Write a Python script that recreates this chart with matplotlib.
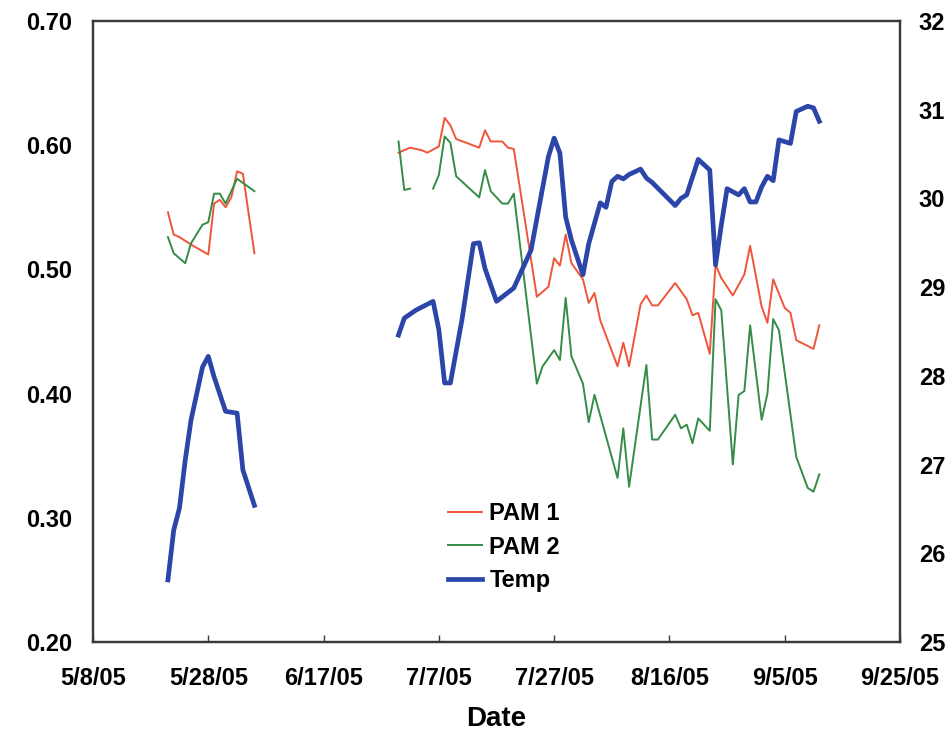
import numpy as np
import pandas as pd
import matplotlib
matplotlib.use("Agg")
import matplotlib.pyplot as plt

plt.rcParams["font.family"] = ["Liberation Sans", "DejaVu Sans"]

# Measurement days are counted from the season start; NaN marks a gap in the record
season_start = "2005-05-08"

pam1_days = [13, 14, 15, 17, 20, 21, 22, 23, 24, 25, 26, 28, 40,
             53, 55, 57, 58, 60, 61, 62, 63,
             67, 68, 69, 71, 72, 73,
             77, 78, 79, 80, 81, 82, 83,
             85, 86, 87, 88,
             91, 92, 93,
             95, 96, 97, 98,
             101, 103, 104, 105,
             107, 108, 109, 111,
             113, 114, 116, 117, 118,
             120, 121, 122, 125, 126]
pam1_vals = [0.546, 0.528, 0.526, 0.520, 0.512, 0.553, 0.556, 0.550, 0.558, 0.579, 0.577, 0.513, np.nan,
             0.594, 0.598, 0.596, 0.594, 0.599, 0.622, 0.616, 0.605,
             0.598, 0.612, 0.603, 0.603, 0.598, 0.597,
             0.478, 0.482, 0.486, 0.509, 0.503, 0.528, 0.505,
             0.492, 0.473, 0.481, 0.459,
             0.422, 0.441, 0.422,
             0.472, 0.479, 0.471, 0.471,
             0.489, 0.476, 0.463, 0.465,
             0.432, 0.504, 0.493, 0.479,
             0.496, 0.519, 0.470, 0.457, 0.492,
             0.469, 0.465, 0.443, 0.436, 0.455]

pam2_days = [13, 14, 16, 17, 19, 20, 21, 22, 23, 25, 28, 40,
             53, 54, 55, 57,
             59, 60, 61, 62, 63,
             67, 68, 69, 71, 72, 73,
             77, 78, 80, 81, 82, 83,
             85, 86, 87,
             91, 92, 93,
             96, 97, 98,
             101, 102, 103, 104, 105,
             107, 108, 109, 111, 112, 113, 114,
             116, 117, 118, 119,
             122, 124, 125, 126]
pam2_vals = [0.526, 0.513, 0.505, 0.521, 0.536, 0.538, 0.561, 0.561, 0.553, 0.573, 0.563, np.nan,
             0.603, 0.564, 0.565, np.nan,
             0.565, 0.576, 0.607, 0.602, 0.575,
             0.558, 0.580, 0.563, 0.553, 0.553, 0.561,
             0.408, 0.422, 0.435, 0.427, 0.477, 0.430,
             0.408, 0.377, 0.399,
             0.332, 0.372, 0.325,
             0.423, 0.363, 0.363,
             0.383, 0.372, 0.375, 0.360, 0.380,
             0.370, 0.476, 0.467, 0.343, 0.399, 0.402, 0.455,
             0.379, 0.400, 0.460, 0.451,
             0.349, 0.324, 0.321, 0.335]

temp_days = [13, 14, 15, 16, 17, 19, 20, 21, 23, 25, 26, 28, 40,
             53, 54, 56, 59, 60, 61, 62,
             64, 66, 67, 68, 70, 71, 73, 76,
             79, 80, 81, 82, 83, 85, 86,
             88, 89, 90, 91, 92, 93, 95, 96, 97,
             101, 102, 103, 105, 107, 108, 109, 110,
             112, 113, 114, 115, 116, 117, 118, 119,
             121, 122, 124, 125, 126]
temp_vals = [25.70, 26.26, 26.51, 27.05, 27.50, 28.10, 28.22, 27.99, 27.60, 27.58, 26.94, 26.54, np.nan,
             28.46, 28.65, 28.74, 28.84, 28.52, 27.92, 27.92,
             28.63, 29.49, 29.50, 29.21, 28.84, 28.89, 28.99, 29.42,
             30.47, 30.68, 30.51, 29.79, 29.53, 29.14, 29.49,
             29.95, 29.90, 30.19, 30.25, 30.22, 30.27, 30.33, 30.23, 30.18,
             29.92, 30.00, 30.04, 30.44, 30.32, 29.25, 29.70, 30.11,
             30.04, 30.11, 29.96, 29.96, 30.13, 30.25, 30.20, 30.66,
             30.62, 30.98, 31.04, 31.02, 30.87]

x_tick_labels = ["5/8/05", "5/28/05", "6/17/05", "7/7/05", "7/27/05", "8/16/05", "9/5/05", "9/25/05"]
x_tick_step_days = 20
left_ticks = [0.20, 0.30, 0.40, 0.50, 0.60, 0.70]
right_ticks = [25, 26, 27, 28, 29, 30, 31, 32]

start = pd.Timestamp(season_start)


def to_dates(days):
    return start + pd.to_timedelta(days, unit="D")


RED = "#F0553A"
GREEN = "#348C46"
BLUE = "#2C45A8"
SPINE = "#3A3A3A"
FS = 17

fig = plt.figure(figsize=(9.51, 7.32), dpi=100)
ax = fig.add_axes([93 / 951, 90 / 732, 807 / 951, 621 / 732])
ax2 = ax.twinx()

l1, = ax.plot(to_dates(pam1_days), pam1_vals, color=RED, lw=1.4, label="PAM 1")
l2, = ax.plot(to_dates(pam2_days), pam2_vals, color=GREEN, lw=1.4, label="PAM 2")
l3, = ax2.plot(to_dates(temp_days), temp_vals, color=BLUE, lw=3.4, label="Temp",
               solid_joinstyle="round")

tick_dates = start + pd.to_timedelta(np.arange(len(x_tick_labels)) * x_tick_step_days, unit="D")
ax.set_xlim(tick_dates[0], tick_dates[-1])
ax.set_xticks(tick_dates)
ax.set_xticklabels(x_tick_labels, fontsize=FS, fontweight="bold")

ax.set_ylim(left_ticks[0], left_ticks[-1])
ax.set_yticks(left_ticks)
ax.set_yticklabels([f"{v:.2f}" for v in left_ticks], fontsize=FS, fontweight="bold")
ax2.set_ylim(right_ticks[0], right_ticks[-1])
ax2.set_yticks(right_ticks)
ax2.set_yticklabels([str(v) for v in right_ticks], fontsize=FS, fontweight="bold")

ax.tick_params(axis="x", direction="in", length=5, width=1.0, color=SPINE, pad=18)
ax.tick_params(axis="y", length=0, pad=15)
ax2.tick_params(axis="y", length=0, pad=13.5)

for a in (ax, ax2):
    for s in a.spines.values():
        s.set_color(SPINE)
        s.set_linewidth(1.6)

ax.set_xlabel("Date", fontsize=20, fontweight="bold")
ax.xaxis.set_label_coords(0.5, -0.1025)
ax.xaxis.label.set_va("top")

ax2.legend(handles=[l1, l2, l3], loc="upper left", bbox_to_anchor=(448 / 951, 1 - 502 / 732),
           bbox_transform=fig.transFigure, frameon=False,
           prop={"weight": "bold", "size": FS}, handlelength=1.45, handletextpad=0.3,
           labelspacing=0.45, borderpad=0, borderaxespad=0)

fig.savefig("out.png", dpi=100)
